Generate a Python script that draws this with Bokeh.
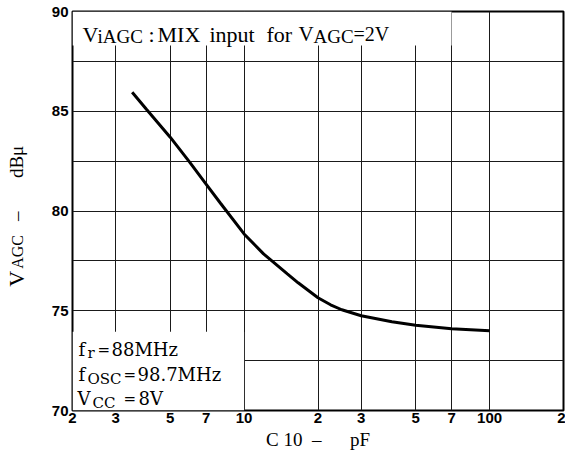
import numpy as np
from bokeh.plotting import figure
from bokeh.layouts import row
from bokeh.models import FixedTicker, Label
from bokeh.embed import file_html
from bokeh.resources import INLINE

# ---- data ----
cap_pf = [3.5, 4, 5, 6, 7, 8, 10, 12, 15, 16.6, 20, 22.5, 25, 30, 40, 50, 70, 100]
v_agc = [85.95, 85.1, 83.7, 82.45, 81.35, 80.4, 78.85, 77.85, 76.85, 76.4, 75.65,
         75.3, 75.05, 74.75, 74.45, 74.27, 74.1, 74.0]
x_ticks = [2, 3, 5, 7, 10, 20, 30, 50, 70, 100, 200]
x_tick_labels = ["2", "3", "5", "7", "10", "2", "3", "5", "7", "100", "2"]
y_ticks = [70, 75, 80, 85, 90]
y_grid = [70, 72.5, 75, 77.5, 80, 82.5, 85, 87.5, 90]
x_title = "C 10\u00a0\u00a0\u2013\u00a0\u00a0\u00a0\u00a0\u00a0\u00a0pF"

# ---- layout (page pixels) ----
TOTAL_W, H = 565, 452
YW = 40                      # strip holding the vertical axis title
FL, FR, FT, FB = 72, 563, 11, 411
X0, X1, Y0, Y1 = 2, 200, 70, 90


def dx(px):
    return 10 ** (np.log10(X0) + (px - FL) / (FR - FL) * np.log10(X1 / X0))


def dy(py):
    return Y1 - (py - FT) / (FB - FT) * (Y1 - Y0)


MW = TOTAL_W - YW
p = figure(width=MW, height=H, x_axis_type="log", x_range=(X0, X1), y_range=(Y0, Y1),
           output_backend="svg", toolbar_location=None,
           min_border_left=FL - YW, min_border_right=TOTAL_W - FR,
           min_border_top=FT, min_border_bottom=H - FB)
p.background_fill_color = "white"
p.border_fill_color = "white"
p.outline_line_color = "black"
p.outline_line_width = 2

# grid
p.xgrid.ticker = FixedTicker(ticks=x_ticks)
p.ygrid.ticker = FixedTicker(ticks=y_grid)
for g in (p.xgrid, p.ygrid):
    g.grid_line_color = "#1a1a1a"
    g.grid_line_width = 1
    g.grid_line_alpha = 1

# axes
p.xaxis.ticker = FixedTicker(ticks=x_ticks)
p.xaxis.major_label_overrides = {t: l for t, l in zip(x_ticks, x_tick_labels)}
p.yaxis.ticker = FixedTicker(ticks=y_ticks)
for ax in (p.xaxis, p.yaxis):
    ax.axis_line_color = None
    ax.major_tick_line_color = None
    ax.minor_tick_line_color = None
    ax.major_tick_out = 0
    ax.major_tick_in = 0
    ax.major_label_text_font = "Liberation Sans"
    ax.major_label_text_font_style = "bold"
    ax.major_label_text_font_size = "15px"
    ax.major_label_text_color = "black"
p.xaxis.major_label_standoff = 2
p.yaxis.major_label_standoff = 4
p.xaxis.axis_label = x_title
p.xaxis.axis_label_text_font = "Liberation Serif"
p.xaxis.axis_label_text_font_style = "normal"
p.xaxis.axis_label_text_font_size = "19px"
p.xaxis.axis_label_text_color = "black"
p.xaxis.axis_label_standoff = 3

# white boxes behind the annotation texts
box_left = [X0, X0]
box_right = [70, 10]
box_bottom = [dy(45), Y0]
box_top = [Y1, dy(332)]
p.quad(left=box_left, right=box_right, bottom=box_bottom, top=box_top,
       fill_color="white", line_color=None)

# curve
p.line(cap_pf, v_agc, line_color="black", line_width=3)


def lab(px, py, text, size, font="Liberation Serif"):
    p.add_layout(Label(x=dx(px), y=dy(py), text=text, text_font=font,
                       text_font_size=f"{size}px", text_color="black",
                       text_align="left", text_baseline="alphabetic"))


# top box text
lab(82, 34, "V", 22)
lab(97, 36, "iAGC", 19)
lab(148, 34, ":", 22)
lab(157, 34, "MIX", 22)
lab(209, 34, "input", 22)
lab(266, 34, "for", 22)
lab(298, 34, "V", 21)
lab(313, 36, "AGC", 19)
lab(353, 34, "=2V", 20)

# bottom-left box text
F2 = "DejaVu Serif"
lab(78, 350, "f", 18, F2)
lab(87, 353, "r", 15, F2)
lab(97, 350, "=", 15, F2)
lab(111, 350, "88MHz", 18, F2)
lab(78, 375, "f", 18, F2)
lab(87, 379, "OSC", 15, F2)
lab(123, 375, "=", 15, F2)
lab(137, 375, "98.7MHz", 18, F2)
lab(77, 399, "V", 18, F2)
lab(92, 403, "CC", 15, F2)
lab(123, 399, "=", 15, F2)
lab(138, 399, "8V", 18, F2)

# ---- strip with the vertical axis title (frame aligned with the plot) ----
yl = figure(width=YW, height=H, x_range=(0, YW), y_range=(Y0, Y1),
            output_backend="svg", toolbar_location=None,
            x_axis_location=None, y_axis_location=None,
            min_border_left=0, min_border_right=0,
            min_border_top=FT, min_border_bottom=H - FB)
yl.outline_line_color = None
yl.background_fill_color = "white"
yl.border_fill_color = "white"
yl.xgrid.visible = False
yl.ygrid.visible = False


def vlab(px, py, text, size):
    yl.add_layout(Label(x=px, y=dy(py), text=text, text_font="Liberation Serif",
                        text_font_size=f"{size}px", text_color="black",
                        text_align="left", text_baseline="alphabetic",
                        angle=np.pi / 2))


vlab(16, 287, "V", 22)
vlab(17, 269, "AGC", 16)
vlab(16, 221, "\u2013", 19)
vlab(16, 178, "dB\u03bc", 19)

layout = row(yl, p)
open("out.html", "w").write(file_html(layout, INLINE))
